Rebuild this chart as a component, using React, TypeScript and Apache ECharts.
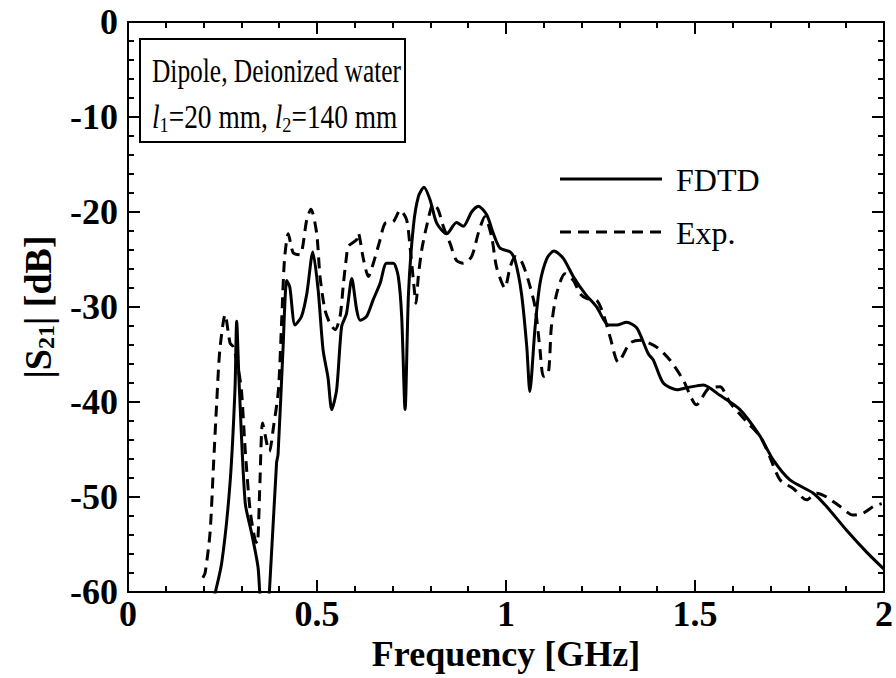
import React, { useEffect, useRef } from "react";
import * as echarts from "echarts";

const fdtdF = [0.225, 0.248, 0.27, 0.283, 0.2875, 0.294, 0.31, 0.327, 0.344, 0.352, 0.365, 0.374, 0.393, 0.397, 0.41, 0.42, 0.428, 0.442, 0.459, 0.473, 0.489, 0.503, 0.516, 0.529, 0.539, 0.552, 0.565, 0.578, 0.592, 0.605, 0.614, 0.631, 0.648, 0.667, 0.684, 0.702, 0.715, 0.724, 0.733, 0.742, 0.755, 0.768, 0.783, 0.799, 0.817, 0.843, 0.869, 0.887, 0.909, 0.927, 0.949, 0.966, 0.984, 1.011, 1.024, 1.041, 1.055, 1.063, 1.077, 1.09, 1.108, 1.127, 1.152, 1.178, 1.209, 1.24, 1.271, 1.293, 1.319, 1.346, 1.376, 1.39, 1.416, 1.452, 1.478, 1.522, 1.566, 1.619, 1.672, 1.707, 1.751, 1.813, 1.848, 1.901, 1.954, 2.0];
const fdtdDb = [-61, -56.9, -48.5, -38.7, -31.5, -38, -50.6, -53.8, -57.4, -62, -64, -60, -46.4, -45.5, -34.5, -27.2, -27.9, -31.9, -31, -28.6, -24.2, -28.2, -34.5, -37.4, -40.8, -38.7, -32.1, -30.7, -27, -30.3, -31.4, -31, -29.3, -27.5, -25.4, -25.4, -26.8, -31, -40.8, -28.6, -21.5, -18.4, -17.4, -18.7, -21.2, -22.3, -21.1, -21.5, -20, -19.4, -20.3, -22.2, -23.8, -24.2, -25.1, -28.6, -34.2, -38.9, -32.1, -27.5, -24.9, -24.1, -24.9, -26.8, -28.6, -30, -31.9, -31.9, -31.6, -32.2, -34.9, -35.6, -38, -38.7, -38.5, -38.2, -39.3, -40.8, -43.6, -46.1, -48.2, -49.6, -51, -53.5, -55.8, -57.6];

const expF = [0.198, 0.204, 0.217, 0.226, 0.235, 0.243, 0.257, 0.27, 0.279, 0.292, 0.3, 0.31, 0.323, 0.336, 0.342, 0.349, 0.356, 0.369, 0.374, 0.385, 0.398, 0.407, 0.414, 0.424, 0.437, 0.455, 0.473, 0.484, 0.499, 0.508, 0.521, 0.534, 0.548, 0.561, 0.57, 0.578, 0.583, 0.605, 0.609, 0.623, 0.636, 0.649, 0.667, 0.68, 0.702, 0.72, 0.737, 0.746, 0.755, 0.762, 0.768, 0.777, 0.79, 0.808, 0.821, 0.834, 0.852, 0.869, 0.887, 0.909, 0.927, 0.944, 0.962, 0.975, 0.997, 1.011, 1.024, 1.041, 1.059, 1.077, 1.09, 1.099, 1.112, 1.12, 1.134, 1.156, 1.178, 1.196, 1.213, 1.24, 1.257, 1.275, 1.297, 1.328, 1.354, 1.398, 1.434, 1.469, 1.504, 1.535, 1.566, 1.593, 1.637, 1.672, 1.698, 1.725, 1.76, 1.795, 1.822, 1.848, 1.884, 1.918, 1.945, 1.972, 1.994];
const expDb = [-58.5, -58, -53.8, -46.8, -39.8, -34.5, -30.8, -33.8, -34.2, -36.6, -38.7, -45, -51.4, -54.5, -54.9, -48.5, -42.2, -44.7, -45.2, -42.6, -38.7, -31, -25, -22.3, -24.3, -24.5, -20.8, -19.7, -22.2, -26.8, -30.3, -31.7, -32.4, -31, -27.5, -24.7, -23.6, -22.9, -22.2, -25, -26.8, -25.4, -22.9, -21.2, -21, -19.8, -20.8, -23.6, -27.2, -29.6, -26.8, -24, -21.5, -19.1, -19.8, -21.5, -23.3, -25.1, -25.4, -24.7, -22.2, -20.5, -22.6, -25.8, -28, -25.8, -24.7, -25.2, -27.2, -30, -34.5, -37.3, -37, -32.1, -28.6, -26.5, -27.2, -28.6, -29.1, -29.3, -30.7, -33.1, -35.8, -33.8, -33.5, -34.2, -35.6, -37.7, -40.3, -38.6, -38.4, -40.1, -42.1, -43.6, -45.8, -48.2, -49.1, -50.3, -49.6, -50, -51, -51.9, -51.7, -51, -50.7];

const seriesNames = ["FDTD", "Exp."];
const xTicks = { min: 0, max: 2, interval: 0.5 };
const yTicks = { min: -60, max: 0, interval: 10 };

const SERIF = "'Liberation Serif', 'Times New Roman', Times, serif";

export default function App() {
  const ref = useRef<HTMLDivElement>(null);
  useEffect(() => {
    document.body.style.margin = "0";
    const chart = echarts.init(ref.current!, null, { renderer: "svg" });
    const labelStyle = { fontFamily: SERIF, fontWeight: "bold" as const, fontSize: 36, color: "#000" };
    const axisCommon = {
      axisLine: { show: true, onZero: false, lineStyle: { color: "#000", width: 2 } },
      axisTick: { show: true, inside: true, length: 12, lineStyle: { color: "#000", width: 2 } },
      minorTick: { show: true, splitNumber: 5, length: 6, lineStyle: { color: "#000", width: 2 } },
      splitLine: { show: false },
      minorSplitLine: { show: false },
    };
    chart.setOption({
      animation: false,
      backgroundColor: "#fff",
      grid: { left: 128, top: 22, width: 756, height: 570, containLabel: false },
      xAxis: [
        {
          type: "value",
          position: "bottom",
          ...xTicks,
          ...axisCommon,
          axisLabel: { ...labelStyle, margin: 4 },
          name: "Frequency [GHz]",
          nameLocation: "middle",
          nameGap: 44,
          nameMoveOverlap: false,
          nameTextStyle: { fontFamily: SERIF, fontWeight: "bold", fontSize: 36, color: "#000" },
        },
        {
          type: "value",
          position: "top",
          ...xTicks,
          ...axisCommon,
          axisLabel: { show: false },
        },
      ],
      yAxis: [
        {
          type: "value",
          position: "left",
          ...yTicks,
          ...axisCommon,
          axisLabel: { ...labelStyle, margin: 10 },
          name: "{b||S}{s|21}{b|| [dB]}",
          nameLocation: "middle",
          nameGap: 70,
          nameRotate: 90,
          nameMoveOverlap: false,
          nameTextStyle: {
            rich: {
              b: { fontFamily: SERIF, fontWeight: "bold", fontSize: 38, color: "#000", lineHeight: 40 },
              s: { fontFamily: SERIF, fontWeight: "bold", fontSize: 24, color: "#000", lineHeight: 24, verticalAlign: "bottom" },
            },
          },
        },
        {
          type: "value",
          position: "right",
          ...yTicks,
          ...axisCommon,
          axisLabel: { show: false },
        },
      ],
      graphic: [
        {
          type: "rect",
          shape: { x: 140, y: 39, width: 265, height: 103 },
          style: { fill: "#fff", stroke: "#000", lineWidth: 2 },
          z: 10,
        },
        {
          type: "text",
          x: 152,
          y: 71,
          scaleX: 0.77,
          z: 11,
          style: { text: "Dipole, Deionized water", fontFamily: SERIF, fontSize: 33, fill: "#000", verticalAlign: "middle" },
        },
        {
          type: "text",
          x: 152,
          y: 117,
          scaleX: 0.83,
          z: 11,
          style: {
            text: "{i|l}{s|1}{n|=20 mm, }{i|l}{s|2}{n|=140 mm}",
            verticalAlign: "middle",
            rich: {
              i: { fontFamily: SERIF, fontStyle: "italic", fontSize: 33, fill: "#000", lineHeight: 36 },
              n: { fontFamily: SERIF, fontSize: 33, fill: "#000", lineHeight: 36 },
              s: { fontFamily: SERIF, fontSize: 22, fill: "#000", lineHeight: 21, verticalAlign: "bottom" },
            },
          },
        },
        {
          type: "line",
          shape: { x1: 560, y1: 179, x2: 662, y2: 179 },
          style: { stroke: "#000", lineWidth: 3 },
          z: 11,
        },
        {
          type: "text",
          x: 676,
          y: 180,
          z: 11,
          style: { text: seriesNames[0], fontFamily: SERIF, fontSize: 32, fill: "#000", verticalAlign: "middle" },
        },
        {
          type: "line",
          shape: { x1: 560, y1: 232, x2: 662, y2: 232 },
          style: { stroke: "#000", lineWidth: 3, lineDash: [11, 7] },
          z: 11,
        },
        {
          type: "text",
          x: 676,
          y: 233,
          z: 11,
          style: { text: seriesNames[1], fontFamily: SERIF, fontSize: 32, fill: "#000", verticalAlign: "middle" },
        },
      ],
      series: [
        {
          name: seriesNames[0],
          type: "line",
          data: fdtdF.map((f, i) => [f, fdtdDb[i]]),
          showSymbol: false,
          symbol: "none",
          smooth: 0.25,
          clip: true,
          lineStyle: { color: "#000", width: 3 },
          itemStyle: { color: "#000" },
        },
        {
          name: seriesNames[1],
          type: "line",
          data: expF.map((f, i) => [f, expDb[i]]),
          showSymbol: false,
          symbol: "none",
          smooth: 0.25,
          clip: true,
          lineStyle: { color: "#000", width: 3, type: [11, 7] },
          itemStyle: { color: "#000" },
        },
      ],
    });
    return () => chart.dispose();
  }, []);
  return <div ref={ref} style={{ position: "absolute", left: 0, top: 0, width: 896, height: 678 }} />;
}
